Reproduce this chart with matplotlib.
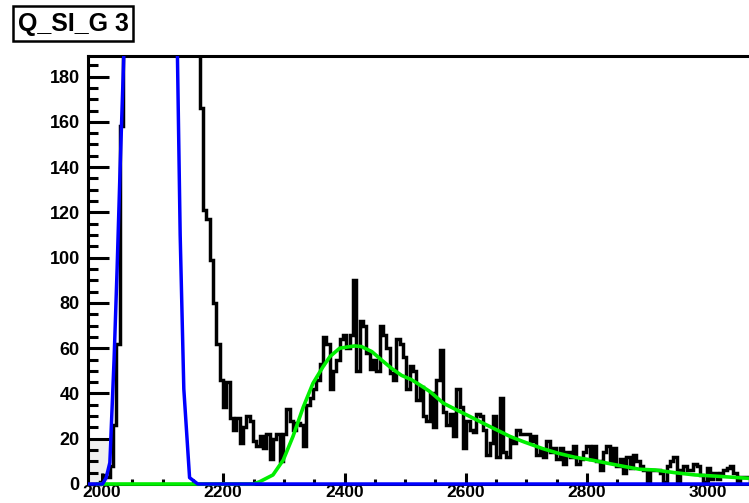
import numpy as np
import matplotlib
matplotlib.use("Agg")
import matplotlib.pyplot as plt
from matplotlib.ticker import MultipleLocator
from matplotlib.patches import Rectangle
from matplotlib.transforms import Bbox, TransformedBbox

plt.rcParams['font.family'] = ['Liberation Sans', 'DejaVu Sans']
plt.rcParams['font.weight'] = 'bold'

# histogram: fixed-width bins starting at bin_lo
bin_lo = 1979.5
bin_width = 5.5

# rising edge of the big peak
counts_rise = [0, 0, 0, 1, 4, 3, 8, 26, 62, 158]
# main peak, off the top of the frame (estimated)
counts_peak = [260, 420, 650, 950, 1300, 1650, 1950, 2150, 2250, 2200, 2050, 1800,
               1500, 1150, 850, 600, 420, 300, 240, 215, 205, 200, 195]
# tail + second bump
counts_tail = [
    166, 121, 117, 99, 80, 62, 46, 34, 45, 29,
    24, 29, 18, 25, 30, 28, 19, 17, 21, 16,
    22, 11, 20, 22, 10, 22, 33, 28, 24, 27,
    26, 17, 35, 38, 42, 46, 53, 65, 62, 42,
    50, 55, 64, 66, 60, 66, 90, 50, 72, 70,
    58, 51, 55, 50, 70, 66, 60, 49, 46, 64,
    62, 56, 42, 52, 50, 37, 43, 30, 28, 40,
    25, 46, 59, 32, 26, 31, 21, 42, 34, 16,
    28, 24, 23, 31, 30, 24, 13, 18, 30, 12,
    38, 14, 12, 20, 18, 24, 22, 22, 22, 19,
    21, 13, 15, 12, 19, 14, 16, 11, 16, 9,
    14, 12, 17, 9, 11, 14, 17, 11, 17, 10,
    6, 14, 17, 10, 16, 8, 11, 5, 12, 7,
    13, 10, 8, 6, 1, 6, 6, 6, 5, 1,
    8, 10, 12, 1, 6, 8, 6, 6, 9, 8,
    4, 1, 7, 2, 5, 2, 5, 6, 7, 8,
    5, 1, 3, 3, 3,
]

fit1_x = [1977, 2001, 2007, 2013, 2020, 2025, 2030, 2036, 2040, 2085, 2120, 2124.5,
          2129, 2135, 2144.5, 2158, 3100]
fit1_y = [0, 0, 2.8, 9.4, 55, 95, 140, 189, 225, 3000, 260, 189,
          110, 42, 2.8, 0, 0]

# green fit
fit2_x = [1993, 2250, 2260, 2282, 2299, 2315, 2332, 2348, 2365, 2376, 2392, 2409,
          2417, 2428, 2445, 2461, 2478, 2494, 2511, 2527, 2541, 2563, 2585, 2607,
          2629, 2651, 2673, 2695, 2725, 2752, 2780, 2807, 2835, 2862, 2887, 2912,
          2945, 2978, 3011, 3044, 3067, 3100]
fit2_y = [0, 0, 1.0, 4.0, 10.6, 21, 34, 44.5, 52, 56.3, 60, 60.7,
          61, 60.7, 58.5, 54.8, 51, 48, 46, 43.3, 40.8, 35.7, 32.7, 29.8,
          26.8, 23.9, 21, 18.7, 15.8, 13.6, 11.8, 10.6, 9.1, 7.7, 6.5, 6.2,
          5, 4, 3.5, 2.9, 2.5, 2.2]

# faint grey patch in the lower-left corner
shade_x = [1977, 2010]
shade_top = [19, 19]

counts = counts_rise + counts_peak + counts_tail
edges = bin_lo + bin_width * np.arange(len(counts) + 1)

fig = plt.figure(figsize=(7.49, 5.03), dpi=100)
ax = fig.add_axes([88 / 749, 19 / 503, 681 / 749, 428 / 503])

clip = TransformedBbox(Bbox([[0, -0.02], [1, 1]]), ax.transAxes)

ax.fill_between(shade_x, 0, shade_top, color='#efefef', lw=0, zorder=1)
st = ax.stairs(counts, edges, color='black', lw=2.5, zorder=2)
g, = ax.plot(fit2_x, fit2_y, color='#00ee00', lw=2.6, zorder=3)
b, = ax.plot(fit1_x, fit1_y, color='#0000ff', lw=2.5, zorder=4)
for art in (st, g, b):
    art.set_clip_box(clip)

ax.set_xlim(1977, 3100)
ax.set_ylim(0, 189.1)

ax.set_xticks([2000, 2200, 2400, 2600, 2800, 3000])
ax.set_yticks(np.arange(0, 181, 20))
ax.xaxis.set_minor_locator(MultipleLocator(50))
ax.yaxis.set_minor_locator(MultipleLocator(5))

ax.tick_params(axis='y', which='major', direction='in', length=15, width=2.2,
               labelsize=13, pad=6)
ax.tick_params(axis='y', which='minor', direction='in', length=7.2, width=2.2)
ax.tick_params(axis='x', which='major', direction='in', length=8, width=2.2,
               labelsize=12.5, pad=1)
ax.tick_params(axis='x', which='minor', direction='in', length=3.8, width=2.2)
for lab in ax.get_xticklabels() + ax.get_yticklabels():
    lab.set_fontweight('bold')

for side in ['left', 'top', 'bottom']:
    ax.spines[side].set_linewidth(2.2)
ax.spines['right'].set_visible(False)

# title box
fig.add_artist(Rectangle((13 / 749, 1 - 40.5 / 503), 120 / 749, 34.5 / 503,
                         transform=fig.transFigure, fill=False, lw=1.8,
                         edgecolor='black'))
fig.text(17.5 / 749, 1 - 31.5 / 503, "Q_SI_G 3", fontsize=18, fontweight='bold',
         ha='left', va='baseline')

fig.savefig("out.png", dpi=100)
